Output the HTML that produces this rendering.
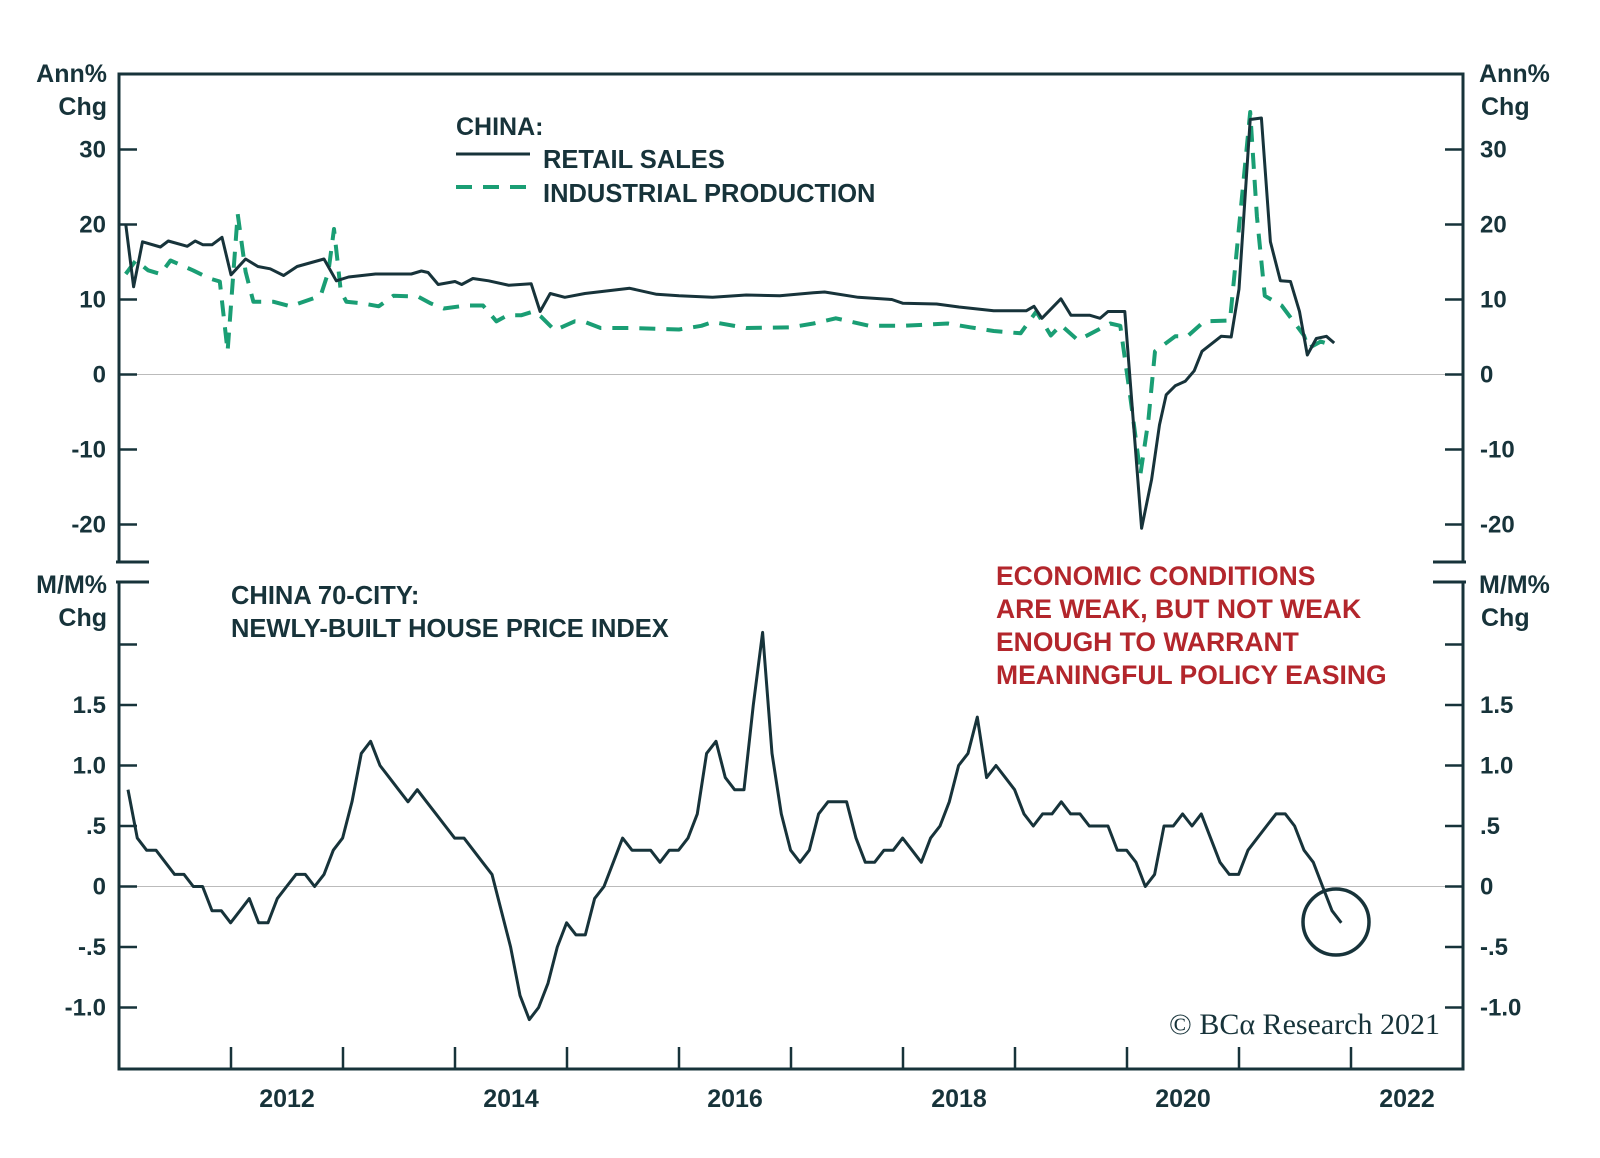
<!DOCTYPE html>
<html><head><meta charset="utf-8"><style>
body{margin:0;background:#fff;}
svg{display:block;font-family:"Liberation Sans",sans-serif;}
</style></head><body>
<svg id="chart" width="1600" height="1158" viewBox="0 0 1600 1158" xmlns="http://www.w3.org/2000/svg"></svg>
<script>
// ---- data ----
const retailDates = [2011.06,2011.13,2011.21,2011.37,2011.44,2011.61,2011.68,2011.75,2011.83,2011.92,2012.0,2012.13,2012.24,2012.35,2012.47,2012.59,2012.83,2012.94,2013.05,2013.29,2013.61,2013.7,2013.76,2013.85,2014.0,2014.06,2014.16,2014.3,2014.48,2014.68,2014.76,2014.85,2014.98,2015.16,2015.56,2015.8,2016.0,2016.3,2016.6,2016.9,2017.2,2017.3,2017.6,2017.9,2018.0,2018.3,2018.5,2018.81,2019.1,2019.17,2019.24,2019.41,2019.5,2019.67,2019.76,2019.83,2019.98,2020.13,2020.22,2020.29,2020.35,2020.43,2020.52,2020.6,2020.67,2020.84,2020.93,2021.0,2021.1,2021.2,2021.28,2021.37,2021.46,2021.54,2021.61,2021.69,2021.78,2021.85];
const retailValues = [20.1,11.7,17.7,17.0,17.8,17.1,17.8,17.3,17.3,18.3,13.3,15.4,14.4,14.1,13.2,14.4,15.4,12.5,13.0,13.4,13.4,13.8,13.6,12.0,12.4,12.0,12.8,12.5,11.9,12.1,8.4,10.8,10.3,10.8,11.5,10.7,10.5,10.3,10.6,10.5,10.9,11.0,10.3,10.0,9.5,9.4,9.0,8.5,8.5,9.1,7.5,10.1,7.9,7.9,7.5,8.4,8.4,-20.5,-14.0,-6.7,-2.7,-1.5,-0.9,0.5,3.1,5.1,5.0,11.4,34.0,34.2,17.7,12.5,12.4,8.4,2.6,4.8,5.1,4.2];
const ipDates = [2011.06,2011.15,2011.26,2011.37,2011.46,2011.66,2011.81,2011.9,2011.97,2012.06,2012.13,2012.2,2012.38,2012.53,2012.8,2012.87,2012.92,2012.98,2013.03,2013.17,2013.32,2013.45,2013.67,2013.78,2013.9,2014.1,2014.25,2014.37,2014.47,2014.59,2014.7,2014.77,2014.89,2015.07,2015.16,2015.3,2015.56,2016.0,2016.2,2016.3,2016.6,2017.0,2017.2,2017.4,2017.7,2018.0,2018.4,2018.6,2018.81,2019.05,2019.19,2019.32,2019.41,2019.56,2019.63,2019.85,2019.94,2020.03,2020.12,2020.19,2020.25,2020.43,2020.54,2020.69,2020.92,2021.1,2021.16,2021.23,2021.38,2021.58,2021.62,2021.73,2021.83];
const ipValues = [13.4,15.2,13.9,13.4,15.2,13.9,12.8,12.4,3.1,21.4,13.7,9.7,9.7,9.1,10.5,13.7,19.4,11.1,9.7,9.5,9.1,10.5,10.4,9.5,8.8,9.2,9.2,7.1,7.9,7.9,8.4,7.7,5.9,7.1,7.0,6.2,6.2,6.0,6.5,7.0,6.2,6.3,6.8,7.5,6.5,6.5,6.8,6.3,5.8,5.5,8.4,5.2,6.6,4.6,5.1,6.8,6.5,-3.1,-13.3,-6.2,3.1,5.1,5.1,7.1,7.2,35.0,21.1,10.5,9.2,5.2,3.5,4.4,3.9];
const houseStart = 2011.08;
const houseValues = [0.8,0.4,0.3,0.3,0.2,0.1,0.1,0,0,-0.2,-0.2,-0.3,-0.2,-0.1,-0.3,-0.3,-0.1,0,0.1,0.1,0,0.1,0.3,0.4,0.7,1.1,1.2,1.0,0.9,0.8,0.7,0.8,0.7,0.6,0.5,0.4,0.4,0.3,0.2,0.1,-0.2,-0.5,-0.9,-1.1,-1.0,-0.8,-0.5,-0.3,-0.4,-0.4,-0.1,0,0.2,0.4,0.3,0.3,0.3,0.2,0.3,0.3,0.4,0.6,1.1,1.2,0.9,0.8,0.8,1.5,2.1,1.1,0.6,0.3,0.2,0.3,0.6,0.7,0.7,0.7,0.4,0.2,0.2,0.3,0.3,0.4,0.3,0.2,0.4,0.5,0.7,1.0,1.1,1.4,0.9,1.0,0.9,0.8,0.6,0.5,0.6,0.6,0.7,0.6,0.6,0.5,0.5,0.5,0.3,0.3,0.2,0,0.1,0.5,0.5,0.6,0.5,0.6,0.4,0.2,0.1,0.1,0.3,0.4,0.5,0.6,0.6,0.5,0.3,0.2,0,-0.2,-0.3];
const topTicks = [30,20,10,0,-10,-20];
const topTickLabels = ["30","20","10","0","-10","-20"];
const botTicks = [1.5,1.0,0.5,0,-0.5,-1.0];
const botTickLabels = ["1.5","1.0",".5","0","-.5","-1.0"];
const years = [2012,2014,2016,2018,2020,2022];

// ---- scales ----
const L=119,R=1463,T1=74,B1=562,T2=582,B2=1069;
const x=t=>119+(t-2011)*112;
const yTop=v=>374.5-v*7.5;
const yBot=v=>886.5-v*121;
const DARK="#17333a",GREEN="#1a9e74",RED="#b3262c";
const svg=document.getElementById('chart');
const NS="http://www.w3.org/2000/svg";
function mk(tag,attrs,parent){const e=document.createElementNS(NS,tag);for(const k in attrs)e.setAttribute(k,attrs[k]);(parent||svg).appendChild(e);return e;}
function txt(s,xx,yy,anchor,size,fill,weight,family){const e=mk('text',{x:xx,y:yy,'text-anchor':anchor,'font-size':size,fill:fill,'font-weight':weight||'bold'});if(family)e.setAttribute('font-family',family);e.textContent=s;return e;}

let z1=mk('line',{x1:L,x2:R,y1:yTop(0),y2:yTop(0),stroke:'#bbb','stroke-width':1});


let z2=mk('line',{x1:L,x2:R,y1:yBot(0),y2:yBot(0),stroke:'#bbb','stroke-width':1});



let fr=mk('path',{d:`M${L} ${B1}V${T1}H${R}V${B1} M${L-3} ${B1}H${L+30} M${R+3} ${B1}H${R-30} M${L-3} ${T2}H${L+30} M${R+3} ${T2}H${R-30} M${L} ${T2}V${B2}H${R}V${T2}`,fill:'none',stroke:DARK,'stroke-width':3});



topTicks.forEach((v,i)=>{
  const yy=yTop(v);
  const t=mk('path',{d:`M${L} ${yy}H${L+18} M${R} ${yy}H${R-18}`,stroke:DARK,'stroke-width':2.5});
  
  
  const a=txt(topTickLabels[i],106,yy+8,'end',24,DARK);
  
  
  const b=txt(topTickLabels[i],1480,yy+8,'start',24,DARK);
  
  
});
[2.0].forEach(v=>{const t=mk('path',{d:`M${L} ${yBot(v)}H${L+18} M${R} ${yBot(v)}H${R-18}`,stroke:DARK,'stroke-width':2.5});
  
  });
botTicks.forEach((v,i)=>{
  const yy=yBot(v);
  const t=mk('path',{d:`M${L} ${yy}H${L+18} M${R} ${yy}H${R-18}`,stroke:DARK,'stroke-width':2.5});
  
  
  const a=txt(botTickLabels[i],106,yy+8,'end',24,DARK);
  
  
  const b=txt(botTickLabels[i],1480,yy+8,'start',24,DARK);
  
  
});
for(let yr=2012;yr<=2022;yr++){
  const t=mk('line',{x1:x(yr),x2:x(yr),y1:B2,y2:B2-22,stroke:DARK,'stroke-width':2.5});
  
  
}
years.forEach(yr=>{
  const a=txt(String(yr),x(yr+0.5),1107,'middle',25,DARK);
  
  
});

function pathFrom(ts,vs,ys){return ts.map((t,i)=>(i?'L':'M')+x(t).toFixed(1)+' '+ys(vs[i]).toFixed(1)).join(' ');}
const ip=mk('path',{d:pathFrom(ipDates,ipValues,yTop),fill:'none',stroke:GREEN,'stroke-width':4,'stroke-dasharray':'16 11','stroke-linejoin':'round'});


const rs=mk('path',{d:pathFrom(retailDates,retailValues,yTop),fill:'none',stroke:DARK,'stroke-width':3,'stroke-linejoin':'round'});


const hd=houseValues.map((v,i)=>houseStart+i/12);
const hp=mk('path',{d:pathFrom(hd,houseValues,yBot),fill:'none',stroke:DARK,'stroke-width':3,'stroke-linejoin':'round'});



const hc=mk('circle',{cx:1336,cy:922,r:33,fill:'none',stroke:DARK,'stroke-width':3.5});



[["Ann%",107,82,'end'],["Chg",107,115,'end'],["Ann%",1479,82,'start'],["Chg",1481,115,'start'],
 ["M/M%",107,593,'end'],["Chg",107,626,'end'],["M/M%",1479,593,'start'],["Chg",1481,626,'start']].forEach(a=>{
  const e=txt(a[0],a[1],a[2],a[3],25,DARK);
  
  
});

let e;
e=txt("CHINA:",456,135,'start',25,DARK);


e=mk('line',{x1:456,x2:530,y1:154,y2:154,stroke:DARK,'stroke-width':3});


e=txt("RETAIL SALES",543,168,'start',25.5,DARK);


e=mk('line',{x1:456,x2:530,y1:187,y2:187,stroke:GREEN,'stroke-width':4,'stroke-dasharray':'16 11'});


e=txt("INDUSTRIAL PRODUCTION",543,202,'start',25.5,DARK);



e=txt("CHINA 70-CITY:",231,604,'start',25.5,DARK);


e=txt("NEWLY-BUILT HOUSE PRICE INDEX",231,637,'start',25.5,DARK);



["ECONOMIC CONDITIONS","ARE WEAK, BUT NOT WEAK","ENOUGH TO WARRANT","MEANINGFUL POLICY EASING"].forEach((s,i)=>{
  const a=txt(s,996,585+i*33,'start',26.5,RED);
  
  
});

e=txt("© BCα Research 2021",1440,1034,'end',30,DARK,'normal','"Liberation Serif", serif');


</script>
</body></html>
